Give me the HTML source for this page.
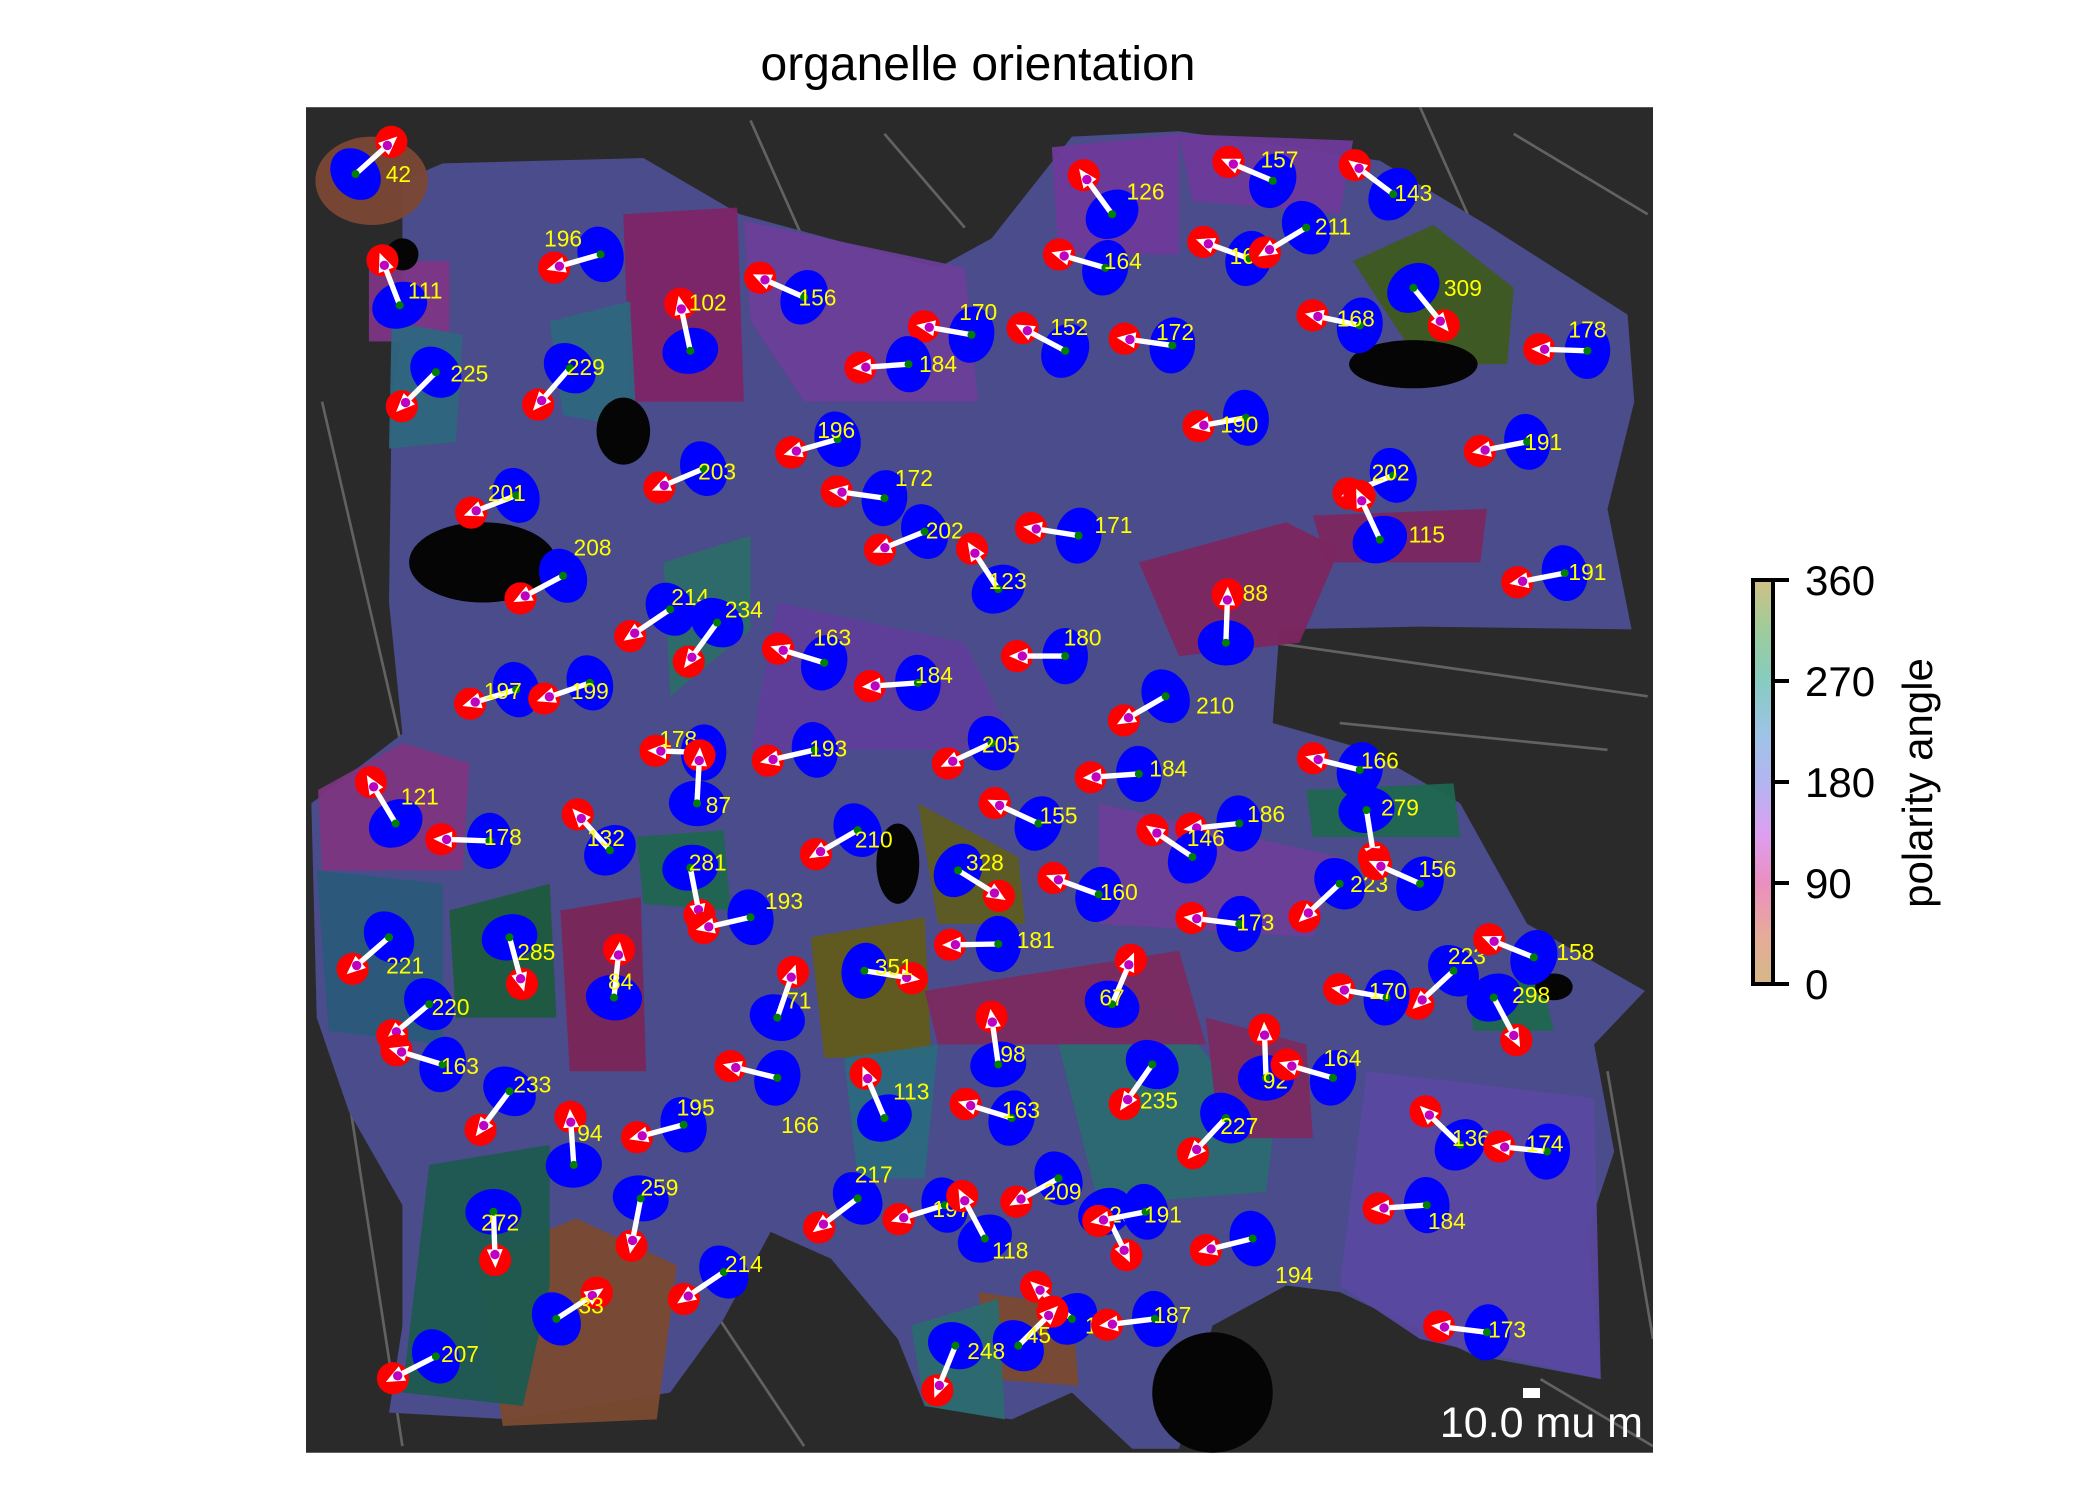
<!DOCTYPE html>
<html><head><meta charset="utf-8"><style>
html,body{margin:0;padding:0;background:#fff;}
svg{display:block;font-family:"Liberation Sans","DejaVu Sans",sans-serif;}
</style></head><body>
<svg id="fig" width="2100" height="1500" viewBox="0 0 2100 1500">
<defs>
<linearGradient id="cbar" x1="0" y1="1" x2="0" y2="0">
<stop offset="0" stop-color="#d4b886"/><stop offset="0.12" stop-color="#e6ab9a"/><stop offset="0.25" stop-color="#eb8ec0"/>
<stop offset="0.37" stop-color="#dc9ff0"/><stop offset="0.5" stop-color="#b3b5f0"/><stop offset="0.62" stop-color="#9dc3e6"/>
<stop offset="0.75" stop-color="#86ccc0"/><stop offset="0.87" stop-color="#9ccc9c"/><stop offset="1" stop-color="#d0c085"/>
</linearGradient>
<clipPath id="plotclip"><rect x="228" y="80" width="1006" height="1005"/></clipPath>
</defs>
<text x="978" y="80" text-anchor="middle" font-size="48" fill="#000">organelle orientation</text>
<g id="img" transform="translate(0.7,0) scale(1.339,1.339)" clip-path="url(#plotclip)"></g>
<rect x="1753" y="580" width="20" height="404" fill="url(#cbar)" stroke="#000" stroke-width="4"/>
<g id="cbticks"></g>
<text transform="translate(1932,783) rotate(-90)" text-anchor="middle" font-size="42" fill="#000">polarity angle</text>
<rect x="1523" y="1388" width="17" height="10" fill="#fff"/>
<text x="1643" y="1437" text-anchor="end" font-size="43" fill="#fff">10.0 mu m</text>
</svg>
<script>
const cbTicks=[0,90,180,270,360];
const angles=[42,196,111,102,156,170,184,152,172,126,164,157,160,211,143,309,168,178,225,229,196,190,191,203,172,202,201,202,171,115,208,191,123,88,214,234,163,180,184,210,197,199,178,193,205,184,166,121,178,132,87,281,210,155,186,146,279,328,160,223,156,193,173,181,221,285,223,158,351,84,170,298,71,67,220,98,92,164,163,233,166,235,113,163,227,195,94,136,174,217,259,209,197,296,191,184,272,118,194,214,33,138,187,45,248,173,207];
const nucPos=[[265,130],[448,190],[298,228],[515,262],[600,222],[725,250],[678,272],[795,262],[875,258],[830,160],[825,200],[950,135],[932,193],[975,170],[1040,145],[1055,215],[1015,243],[1185,262],[325,278],[425,275],[625,328],[930,312],[1140,330],[525,350],[660,372],[1040,355],[385,370],[690,397],[805,400],[1030,403],[420,430],[1168,428],[745,440],[915,480],[500,455],[535,465],[615,495],[795,490],[685,510],[870,520],[385,515],[440,510],[525,562],[608,560],[740,555],[850,578],[1015,575],[295,615],[365,628],[455,635],[520,600],[515,648],[640,620],[775,615],[925,615],[890,640],[1020,605],[715,650],[820,668],[1000,660],[1060,660],[560,685],[925,690],[745,705],[290,700],[380,700],[1085,725],[1145,715],[645,725],[458,745],[1035,745],[1115,745],[580,760],[830,750],[320,750],[745,795],[945,805],[995,805],[330,795],[380,815],[580,805],[860,795],[660,835],[755,835],[915,835],[510,840],[428,870],[1090,855],[1155,860],[640,895],[478,895],[790,880],[705,900],[825,905],[855,905],[1065,900],[368,905],[735,925],[935,925],[540,950],[415,985],[800,985],[862,985],[760,1005],[713,1005],[1110,995],[325,1013]];
const labelPos=[[297,130],[420,178],[317,217],[528,226],[610,222],[730,233],[700,272],[798,244],[877,248],[855,143],[838,195],[955,119],[932,191],[995,169],[1055,144],[1092,215],[1012,238],[1185,246],[350,279],[437,274],[624,321],[925,317],[1152,330],[535,352],[682,357],[1038,353],[378,368],[705,396],[831,392],[1065,399],[442,409],[1185,427],[752,434],[937,443],[515,446],[555,455],[621,476],[808,476],[697,504],[907,527],[375,516],[440,516],[506,552],[618,559],[747,556],[872,574],[1030,568],[313,595],[375,625],[452,626],[536,601],[528,644],[652,627],[790,609],[945,608],[900,626],[1045,603],[735,644],[835,666],[1022,660],[1073,649],[585,673],[937,689],[773,702],[302,721],[400,711],[1095,714],[1176,711],[667,722],[463,733],[1036,740],[1143,743],[596,747],[830,745],[336,752],[756,787],[952,807],[1002,790],[343,796],[397,810],[597,840],[865,822],[680,815],[762,829],[925,841],[519,827],[440,846],[1098,850],[1153,854],[652,877],[492,887],[793,890],[710,903],[842,907],[868,907],[1080,912],[373,913],[754,934],[966,952],[555,944],[441,975],[824,990],[875,982],[775,997],[736,1009],[1125,993],[343,1011]];

const NS='http://www.w3.org/2000/svg';
function mk(tag,attrs,parent){const e=document.createElementNS(NS,tag);for(const k in attrs)e.setAttribute(k,attrs[k]);parent.appendChild(e);return e;}
const img=document.getElementById('img');
const cbx=1773, cby0=984, cby1=580;
function cbY(v){return cby0+(v/360)*(cby1-cby0);}
const cbg=document.getElementById('cbticks');
cbTicks.forEach(v=>{
  const l=mk('line',{x1:cbx,x2:cbx+16,y1:cbY(v),y2:cbY(v),stroke:'#000','stroke-width':4},cbg);
  
  
  const t=mk('text',{x:cbx+32,y:cbY(v)+15,'font-size':42,fill:'#000'},cbg);
  t.textContent=v;
  
  
});
// background image
mk('rect',{x:228,y:80,width:1006,height:1005,fill:'#2a2a2a'},img);
const strands=[[240,300,300,560],[260,820,300,1080],[560,90,600,180],[660,100,720,170],[1060,80,1100,170],[1130,100,1230,160],[950,480,1230,520],[1000,540,1200,560],[1200,800,1234,1000],[520,960,600,1080],[1150,1030,1234,1080],[240,620,260,700]];
strands.forEach(s=>mk('line',{x1:s[0],y1:s[1],x2:s[2],y2:s[3],stroke:'#888','stroke-width':2,opacity:0.6},img));
mk('path',{d:'M300,135 L330,122 L480,118 L552,160 L700,200 L740,178 L800,102 L880,98 L1030,120 L1110,168 L1215,235 L1220,300 L1200,380 L1218,470 L1060,468 L955,470 L950,540 L1020,560 L1090,600 L1140,690 L1228,740 L1190,780 L1205,860 L1185,920 L1195,1030 L1100,1012 L1000,965 L960,960 L905,990 L880,1082 L845,1082 L800,1040 L755,1060 L690,1050 L670,1000 L620,940 L575,920 L540,985 L500,1040 L380,1060 L290,1055 L300,990 L300,900 L260,830 L236,760 L232,600 L300,548 L290,450 L292,300 L300,250 Z',fill:'#4a4c8c'},img);
const regions=[
 ['ellipse',{cx:277,cy:135,rx:42,ry:33},'#7a4734'],
 ['rect',{x:275,y:195,width:60,height:60},'#7d3585'],
 ['path',{d:'M555,165 L720,200 L730,300 L600,300 L560,240 Z'},'#6a3e98'],
 ['path',{d:'M465,160 L550,155 L555,300 L470,300 Z'},'#7c2466'],
 ['path',{d:'M410,240 L470,225 L475,320 L420,310 Z'},'#2e6680'],
 ['path',{d:'M292,240 L345,250 L340,330 L290,335 Z'},'#2e6680'],
 ['path',{d:'M785,110 L880,100 L880,190 L790,190 Z'},'#6e3a9a'],
 ['path',{d:'M880,100 L1010,105 L1000,160 L890,150 Z'},'#6e3a9a'],
 ['path',{d:'M1010,195 L1070,168 L1130,215 L1125,272 L1060,272 Z'},'#3d5a1e'],
 ['path',{d:'M850,420 L960,390 L1000,410 L970,480 L880,490 Z'},'#7c2660'],
 ['path',{d:'M980,385 L1110,380 L1105,420 L990,420 Z'},'#7c2660'],
 ['path',{d:'M495,420 L560,400 L560,470 L500,520 Z'},'#2c6a6a'],
 ['path',{d:'M237,590 L300,555 L350,570 L345,650 L240,650 Z'},'#7c3580'],
 ['path',{d:'M335,680 L410,660 L415,760 L340,760 Z'},'#1c5a3e'],
 ['path',{d:'M418,680 L478,670 L482,800 L425,800 Z'},'#7a2558'],
 ['path',{d:'M475,625 L540,620 L545,680 L480,675 Z'},'#1f6550'],
 ['path',{d:'M605,700 L690,685 L695,790 L615,790 Z'},'#615b1a'],
 ['path',{d:'M685,600 L760,640 L765,690 L700,690 Z'},'#5e5c20'],
 ['path',{d:'M355,940 L430,910 L505,945 L490,1060 L375,1065 Z'},'#7a4a30'],
 ['path',{d:'M320,870 L410,855 L410,960 L390,1050 L300,1040 Z'},'#1e5a50'],
 ['path',{d:'M790,780 L870,750 L950,850 L945,890 L820,900 Z'},'#2a6a72'],
 ['path',{d:'M690,740 L880,710 L900,780 L700,780 Z'},'#7a2a60'],
 ['path',{d:'M900,760 L975,780 L980,850 L910,850 Z'},'#7a2a60'],
 ['path',{d:'M236,650 L330,660 L330,780 L245,770 Z'},'#2a5a7a'],
 ['path',{d:'M975,590 L1085,585 L1090,625 L980,625 Z'},'#1f6650'],
 ['path',{d:'M1020,800 L1190,820 L1195,1030 L1060,1000 L1000,960 Z'},'#5a48a0'],
 ['path',{d:'M730,965 L800,975 L805,1035 L740,1030 Z'},'#7a4a30'],
 ['path',{d:'M680,990 L745,970 L750,1060 L690,1050 Z'},'#2a6a70'],
 ['path',{d:'M1095,735 L1150,730 L1160,770 L1100,770 Z'},'#1f6650'],
 ['path',{d:'M630,790 L700,780 L690,880 L640,880 Z'},'#2a6a80'],
 ['path',{d:'M580,450 L720,480 L760,560 L560,560 Z'},'#5e3e9a'],
 ['path',{d:'M820,600 L1000,640 L980,700 L820,690 Z'},'#6a3e98']
];
regions.forEach(r=>{const e=mk(r[0],r[1],img);e.setAttribute('fill',r[2]);e.setAttribute('opacity','0.95');});
const holes=[[465,322,20,25],[1055,272,48,18],[670,645,16,30],[1160,737,14,10],[905,1040,45,45],[360,420,55,30],[300,190,12,12]];
holes.forEach(h=>mk('ellipse',{cx:h[0],cy:h[1],rx:h[2],ry:h[3],fill:'#050505'},img));
// cells
angles.forEach((a,i)=>{
  const [nx,ny]=nucPos[i];
  const rad=a*Math.PI/180, dx=Math.cos(rad), dy=-Math.sin(rad);
  const L=36;
  const g=mk('g',{},img);
  
  
  const nuc=mk('ellipse',{cx:nx,cy:ny,rx:17,ry:21,fill:'#0000ff',transform:`rotate(${-a} ${nx} ${ny})`},g);
  
  
  const ox=nx+dx*L, oy=ny+dy*L;
  const org=mk('circle',{cx:ox,cy:oy,r:12,fill:'#ff0000'},g);
  
  
  const ex=nx+dx*(L-8), ey=ny+dy*(L-8);
  mk('line',{x1:nx,y1:ny,x2:ex,y2:ey,stroke:'#fff','stroke-width':4},g);
  const px=-dy, py=dx, tx=nx+dx*(L+6), ty=ny+dy*(L+6);
  const arrow=mk('polygon',{points:`${ex+px*6},${ey+py*6} ${tx},${ty} ${ex-px*6},${ey-py*6}`,fill:'#fff'},g);
  
  
  mk('circle',{cx:nx,cy:ny,r:3,fill:'#008000'},g);
  mk('circle',{cx:nx+dx*(L-4),cy:ny+dy*(L-4),r:3.5,fill:'#c000c0'},g);
  const t=mk('text',{x:labelPos[i][0],y:labelPos[i][1]+6,'font-size':17,fill:'#ffff00','text-anchor':'middle'},g);
  t.textContent=a;
  
  
});
</script>
</body></html>
